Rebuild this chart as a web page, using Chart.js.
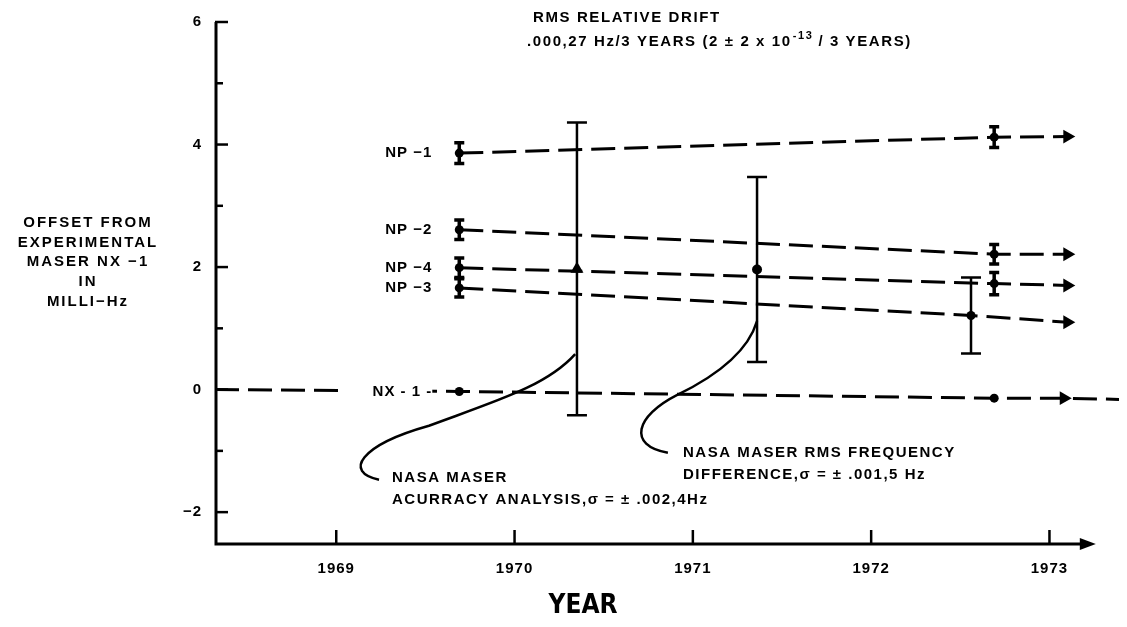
<!DOCTYPE html>
<html>
<head>
<meta charset="utf-8">
<script src="https://cdn.jsdelivr.net/npm/chart.js"></script>
<style>
  body { margin: 0; background: #fff; }
  #wrap { width: 1127px; height: 627px; }
</style>
</head>
<body>
<div id="wrap"><canvas id="chart1" width="1127" height="627"></canvas></div>
<script>
// axis ticks
const xTicks = [1969, 1970, 1971, 1972, 1973];
const yTicks = [-2, 0, 2, 4, 6];
const yMinor = [-1, 1, 3, 5];

// maser series: start, end, arrow
const np1X = [1969.69, 1972.69, 1973.10];
const np1Y = [3.86, 4.12, 4.13];
const np1Err = [0.17, 0.17, 0];

const np2X = [1969.69, 1972.69, 1973.10];
const np2Y = [2.61, 2.21, 2.21];
const np2Err = [0.16, 0.16, 0];

const np4X = [1969.69, 1972.69, 1973.10];
const np4Y = [1.99, 1.73, 1.70];
const np4Err = [0.16, 0.18, 0];

const np3X = [1969.69, 1972.56, 1973.10];
const np3Y = [1.66, 1.21, 1.10];
const np3Err = [0.15, 0.62, 0];

const nx1X = [1968.32, 1969.69, 1972.69, 1973.08, 1973.39];
const nx1Y = [0.0, -0.03, -0.14, -0.14, -0.16];

// NASA maser checks
const accX = [1970.35];
const accY = [1.97];
const accErr = [2.39];

const rmsX = [1971.36];
const rmsY = [1.96];
const rmsErr = [1.51];

// leader curves (year, value) : start, c1, c2, mid, c3, c4, end
const curveAcc = [[1970.34, 0.58], [1970.18, 0.06], [1969.90, -0.18], [1969.52, -0.59], [1969.13, -0.91], [1969.04, -1.35], [1969.24, -1.47]];
const curveRms = [[1971.36, 1.12], [1971.31, 0.63], [1971.13, 0.22], [1970.91, -0.09], [1970.68, -0.43], [1970.63, -0.91], [1970.86, -1.03]];

//helper functions
function pts(xs, ys) {
    return xs.map((x, i) => ({x: x, y: ys[i]}));
}

function lineSet(label, xs, ys, err, radii, styles, rot) {
    return {
        label: label,
        data: pts(xs, ys),
        err: err,
        borderColor: '#000',
        backgroundColor: '#000',
        borderWidth: 3,
        borderDash: [24, 9],
        pointRadius: radii,
        pointStyle: styles,
        pointRotation: rot,
        pointBorderWidth: 0,
        tension: 0
    };
}

const FONT = '"Liberation Sans", Arial, sans-serif';

function txt(ctx, s, x, y, align, font) {
    ctx.font = font || ('bold 15px ' + FONT);
    ctx.textAlign = align || 'left';
    ctx.textBaseline = 'middle';
    ctx.fillText(s, x, y);
}

// axes, ticks and arrow drawn inward like the original
const axesPlugin = {
    id: 'axes',
    beforeDraw(chart) {
        chart.ctx.letterSpacing = '1px';
    },
    afterDatasetsDraw(chart) {
        const ctx = chart.ctx;
        const x = chart.scales.x, y = chart.scales.y;
        const x0 = x.getPixelForValue(1968.32);
        const y0 = y.getPixelForValue(-2.52);
        const xEnd = x.getPixelForValue(1973.26);
        ctx.save();
        ctx.strokeStyle = '#000';
        ctx.fillStyle = '#000';
        ctx.lineWidth = 3;
        ctx.beginPath();
        ctx.moveTo(x0 + 1, y.getPixelForValue(6));
        ctx.lineTo(x0 + 1, y0);
        ctx.lineTo(xEnd - 10, y0);
        ctx.stroke();
        ctx.beginPath();
        ctx.moveTo(xEnd, y0);
        ctx.lineTo(xEnd - 16, y0 - 6);
        ctx.lineTo(xEnd - 16, y0 + 6);
        ctx.closePath();
        ctx.fill();
        ctx.lineWidth = 2.5;
        yTicks.forEach(v => {
            const py = y.getPixelForValue(v);
            ctx.beginPath(); ctx.moveTo(x0, py); ctx.lineTo(x0 + 13, py); ctx.stroke();
        });
        yMinor.forEach(v => {
            const py = y.getPixelForValue(v);
            ctx.beginPath(); ctx.moveTo(x0, py); ctx.lineTo(x0 + 8, py); ctx.stroke();
        });
        xTicks.forEach(v => {
            const px = x.getPixelForValue(v);
            ctx.beginPath(); ctx.moveTo(px, y0); ctx.lineTo(px, y0 - 14); ctx.stroke();
        });

        // error bars
        chart.data.datasets.forEach(ds => {
            if (!ds.err) return;
            ds.data.forEach((p, i) => {
                const e = ds.err[i];
                if (!e) return;
                const px = x.getPixelForValue(p.x);
                const top = y.getPixelForValue(p.y + e);
                const bot = y.getPixelForValue(p.y - e);
                const half = e > 0.5 ? 10 : 5;
                ctx.lineWidth = e > 0.5 ? 2.5 : 3.5;
                ctx.beginPath();
                ctx.moveTo(px, top); ctx.lineTo(px, bot);
                ctx.moveTo(px - half, top); ctx.lineTo(px + half, top);
                ctx.moveTo(px - half, bot); ctx.lineTo(px + half, bot);
                ctx.stroke();
            });
        });

        // leader curves
        ctx.lineWidth = 2.5;
        [curveAcc, curveRms].forEach(c => {
            const q = c.map(p => [x.getPixelForValue(p[0]), y.getPixelForValue(p[1])]);
            ctx.beginPath();
            ctx.moveTo(q[0][0], q[0][1]);
            ctx.bezierCurveTo(q[1][0], q[1][1], q[2][0], q[2][1], q[3][0], q[3][1]);
            ctx.bezierCurveTo(q[4][0], q[4][1], q[5][0], q[5][1], q[6][0], q[6][1]);
            ctx.stroke();
        });

        // series labels
        ctx.letterSpacing = '1px';
        chart.data.datasets.forEach(ds => {
            if (!ds.tag) return;
            const p = ds.data[ds.tagAt];
            const px = x.getPixelForValue(p.x) - 27;
            const py = y.getPixelForValue(p.y);
            if (ds.tagGap) {
                ctx.fillStyle = '#fff';
                ctx.fillRect(px - 90, py - 8, 90, 16);
                ctx.fillStyle = '#000';
            }
            txt(ctx, ds.tag, px, py, 'right');
        });

        // y-axis title
        const yt = ['OFFSET FROM', 'EXPERIMENTAL', 'MASER NX \u22121', 'IN', 'MILLI\u2212Hz'];
        ctx.letterSpacing = '2px';
        yt.forEach((s, i) => txt(ctx, s, 88, 223 + i * 19.6, 'center'));

        // drift note
        ctx.letterSpacing = '1.6px';
        txt(ctx, 'RMS RELATIVE DRIFT', 533, 18);
        let cx = 527;
        const head = '.000,27 Hz/3 YEARS (2 \u00b1 2 x 10';
        txt(ctx, head, cx, 42);
        cx += ctx.measureText(head).width + 1;
        txt(ctx, '-13', cx, 36, 'left', 'bold 11px ' + FONT);
        cx += ctx.measureText('-13').width + 5;
        txt(ctx, '/ 3 YEARS)', cx, 42);

        // annotations
        ctx.letterSpacing = '1.5px';
        txt(ctx, 'NASA MASER', 392, 478);
        txt(ctx, 'ACURRACY ANALYSIS,\u03c3 = \u00b1 .002,4Hz', 392, 500);
        txt(ctx, 'NASA MASER RMS FREQUENCY', 683, 453);
        txt(ctx, 'DIFFERENCE,\u03c3 = \u00b1 .001,5 Hz', 683, 475);

        ctx.letterSpacing = '0px';
        txt(ctx, 'YEAR', 583, 606, 'center', 'bold 26px "DejaVu Sans Condensed", "Liberation Sans Narrow", sans-serif');
        ctx.restore();
    }
};

// Creating chart
function createChart() {
    const ctx = document.getElementById('chart1');
    const dot = 4.5, arrow = 8;
    const datasets = [
        lineSet('NX - 1 -', nx1X, nx1Y, null, [0, dot, dot, arrow, 0],
            ['circle', 'circle', 'circle', 'triangle', 'circle'], [0, 0, 0, 90, 0]),
        lineSet('NP \u22121', np1X, np1Y, np1Err, [dot, dot, arrow], ['circle', 'circle', 'triangle'], [0, 0, 90]),
        lineSet('NP \u22122', np2X, np2Y, np2Err, [dot, dot, arrow], ['circle', 'circle', 'triangle'], [0, 0, 90]),
        lineSet('NP \u22124', np4X, np4Y, np4Err, [dot, dot, arrow], ['circle', 'circle', 'triangle'], [0, 0, 90]),
        lineSet('NP \u22123', np3X, np3Y, np3Err, [dot, dot, arrow], ['circle', 'circle', 'triangle'], [0, 0, 90]),
        {label: 'accuracy', data: pts(accX, accY), err: accErr, showLine: false,
            pointStyle: 'triangle', pointRadius: 7.5, backgroundColor: '#000', borderColor: '#000', pointBorderWidth: 0},
        {label: 'rms', data: pts(rmsX, rmsY), err: rmsErr, showLine: false,
            pointStyle: 'circle', pointRadius: 5, backgroundColor: '#000', borderColor: '#000', pointBorderWidth: 0}
    ];
    datasets.slice(0, 5).forEach(ds => { ds.tag = ds.label; ds.tagAt = 0; });
    datasets[0].tagGap = true;
    datasets[0].tagAt = 1;

    new Chart(ctx, {
        type: 'line',
        data: {datasets: datasets},
        plugins: [axesPlugin],
        options: {
            responsive: false,
            animation: false,
            layout: {padding: {top: 19, left: 0, right: 0, bottom: 0}},
            plugins: {legend: {display: false}, tooltip: {enabled: false}},
            scales: {
                x: {
                    type: 'linear',
                    min: 1968.32,
                    max: 1973.39,
                    grid: {display: false, drawTicks: false},
                    border: {display: false},
                    afterBuildTicks: s => { s.ticks = xTicks.map(v => ({value: v})); },
                    afterFit: s => { s.height = 83; },
                    ticks: {
                        padding: 16,
                        maxRotation: 0,
                        color: '#000',
                        font: {family: FONT, size: 15, weight: 'bold'},
                        callback: v => String(v)
                    }
                },
                y: {
                    min: -2.52,
                    max: 6,
                    grid: {display: false, drawTicks: false},
                    border: {display: false},
                    afterBuildTicks: s => { s.ticks = yTicks.map(v => ({value: v})); },
                    afterFit: s => { s.width = 215; },
                    ticks: {
                        padding: 13,
                        color: '#000',
                        font: {family: FONT, size: 15, weight: 'bold'},
                        callback: v => v < 0 ? '\u2212' + Math.abs(v) : String(v)
                    }
                }
            }
        }
    });
}

createChart();
</script>
</body>
</html>
